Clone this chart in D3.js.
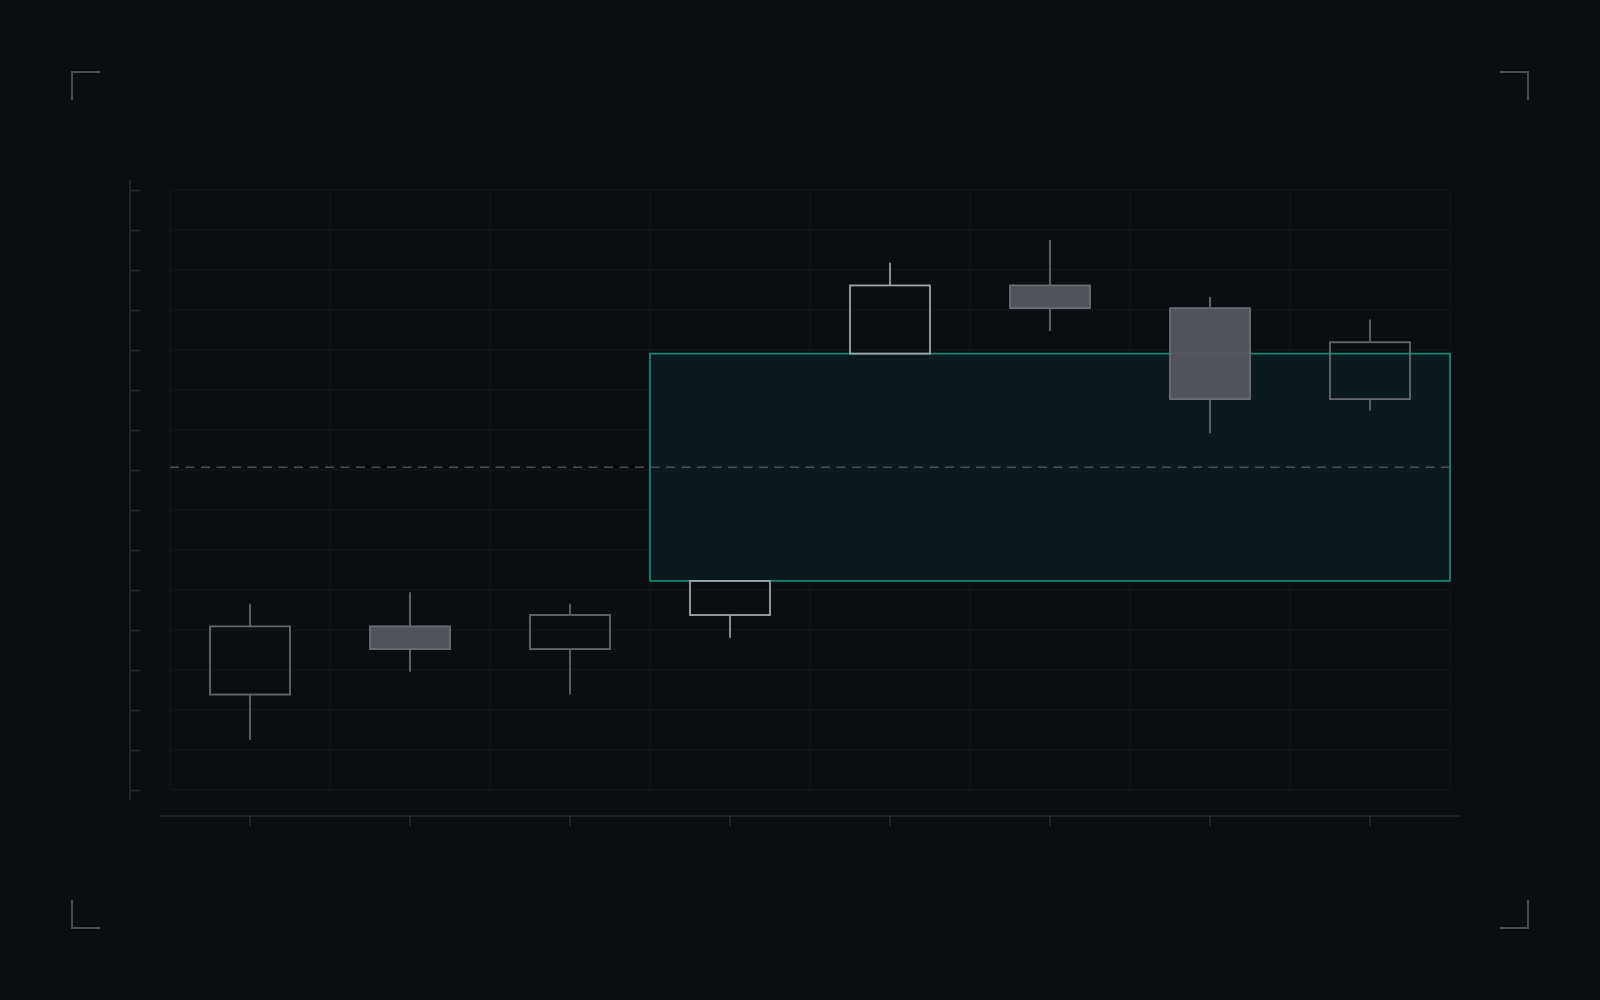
<!DOCTYPE html>
<html>
<head>
<meta charset="utf-8">
<script src="https://cdn.jsdelivr.net/npm/d3@7/dist/d3.min.js"></script>
<style>
  html, body { margin: 0; padding: 0; background: #0c0d11; }
  svg { display: block; }
</style>
</head>
<body>
<svg id="chart" width="1600" height="1000"></svg>
<script>
// ---- data ----
const categories = ["C1", "C2", "C3", "C4", "C5", "C6", "C7", "C8"];
const opens  = [104, 110, 108, 111, 134, 140, 138, 130];
const highs  = [112, 113, 112, 114, 142, 144, 139, 137];
const lows   = [100, 106, 104, 109, 134, 136, 127, 129];
const closes = [110, 108, 111, 114, 140, 138, 130, 135];
const highlighted = [false, false, false, true, true, false, false, false];
// gap zone (between candle 4 high and candle 5 low) and its midpoint
const gapZone = { fromIndex: 3, low: 114, high: 134 };
const gapMid = 124;

// ---- layout ----
const W = 1600, H = 1000;
const plot = { left: 170, right: 1450, top: 190, bottom: 790 };

const svg = d3.select("#chart");
svg.append("rect").attr("width", W).attr("height", H).attr("fill", "#0c0d11");

const minV = d3.min(lows), maxV = d3.max(highs);
const pad = (maxV - minV) * 0.1;
const y = d3.scaleLinear().domain([minV - pad, maxV + pad]).range([plot.bottom, plot.top]);
const x = d3.scaleBand().domain(categories).range([plot.left, plot.right]).padding(0);

const yTicks = d3.range(16).map(i => y.domain()[0] + i * (y.domain()[1] - y.domain()[0]) / 15);

// corner marks
const cornerColor = "#474c57";
const cs = 28, ci = 72;
const corners = [
  `M${ci},${ci + cs}V${ci}H${ci + cs}`,
  `M${W - ci - cs},${ci}H${W - ci}V${ci + cs}`,
  `M${ci},${H - ci - cs}V${H - ci}H${ci + cs}`,
  `M${W - ci - cs},${H - ci}H${W - ci}V${H - ci - cs}`
];
svg.append("g").selectAll("path").data(corners).join("path")
  .attr("d", d => d).attr("fill", "none").attr("stroke", cornerColor).attr("stroke-width", 2);

// grid
const grid = svg.append("g");
grid.selectAll("line.h").data(yTicks).join("line")
  .attr("class", "h")
  .attr("x1", plot.left).attr("x2", plot.right)
  .attr("y1", d => y(d)).attr("y2", d => y(d))
  .attr("stroke", "#17191e").attr("stroke-width", 1.2);
const vLines = categories.map(c => x(c)).concat([x(categories[categories.length - 1]) + x.bandwidth()]);
grid.selectAll("line.v").data(vLines).join("line")
  .attr("class", "v")
  .attr("x1", d => d).attr("x2", d => d)
  .attr("y1", plot.top).attr("y2", plot.bottom)
  .attr("stroke", "#15171c").attr("stroke-width", 1.2);

// y axis
const axisColor = "#262a31";
const yAxis = d3.axisRight(y).tickValues(yTicks).tickSize(10).tickFormat("");
const yg = svg.append("g").attr("transform", "translate(130,0)").call(yAxis);
yg.select(".domain").remove();
yg.selectAll(".tick line").attr("stroke", axisColor).attr("stroke-width", 1.5);
yg.append("line").attr("x1", 0).attr("x2", 0).attr("y1", plot.top - 10).attr("y2", plot.bottom + 10)
  .attr("stroke", axisColor).attr("stroke-width", 1.5);

// x axis
const xAxis = d3.axisBottom(x).tickSize(10).tickFormat("");
const xg = svg.append("g").attr("transform", "translate(0,816)").call(xAxis);
xg.select(".domain").remove();
xg.selectAll(".tick line").attr("stroke", axisColor).attr("stroke-width", 1.5);
xg.append("line").attr("x1", plot.left - 10).attr("x2", plot.right + 10).attr("y1", 0).attr("y2", 0)
  .attr("stroke", axisColor).attr("stroke-width", 1.5);

// gap zone
const zx = x(categories[gapZone.fromIndex]);
svg.append("rect")
  .attr("x", zx).attr("y", y(gapZone.high))
  .attr("width", plot.right - zx).attr("height", y(gapZone.low) - y(gapZone.high))
  .attr("fill", "#0c1a1e").attr("stroke", "#118570").attr("stroke-width", 1.8);

// midpoint dashed line
svg.append("line")
  .attr("x1", plot.left).attr("x2", plot.right)
  .attr("y1", y(gapMid)).attr("y2", y(gapMid))
  .attr("stroke", "#4a4f57").attr("stroke-width", 1.6).attr("stroke-dasharray", "9,6.5");

// candles
const data = categories.map((c, i) => ({
  c, o: opens[i], h: highs[i], l: lows[i], cl: closes[i], hl: highlighted[i]
}));
const bw = x.bandwidth() * 0.5;
const cx = d => x(d.c) + x.bandwidth() / 2;
const g = svg.append("g").selectAll("g").data(data).join("g");
const strokeOf = d => d.cl < d.o ? "#6c6f76" : (d.hl ? "#a2a5ab" : "#66686e");
// upper wick
g.append("line")
  .attr("x1", cx).attr("x2", cx)
  .attr("y1", d => y(d.h)).attr("y2", d => y(Math.max(d.o, d.cl)))
  .attr("stroke", strokeOf).attr("stroke-width", 1.7);
// lower wick
g.append("line")
  .attr("x1", cx).attr("x2", cx)
  .attr("y1", d => y(Math.min(d.o, d.cl))).attr("y2", d => y(d.l))
  .attr("stroke", strokeOf).attr("stroke-width", 1.7);
// body
g.append("rect")
  .attr("x", d => x(d.c) + (x.bandwidth() - bw) / 2)
  .attr("width", bw)
  .attr("y", d => y(Math.max(d.o, d.cl)))
  .attr("height", d => Math.abs(y(d.o) - y(d.cl)))
  .attr("fill", d => d.cl < d.o ? "#54575e" : "none")
  .attr("fill-opacity", d => d.cl < d.o ? 0.95 : 1)
  .attr("stroke", strokeOf).attr("stroke-width", 1.8);
</script>
</body>
</html>
